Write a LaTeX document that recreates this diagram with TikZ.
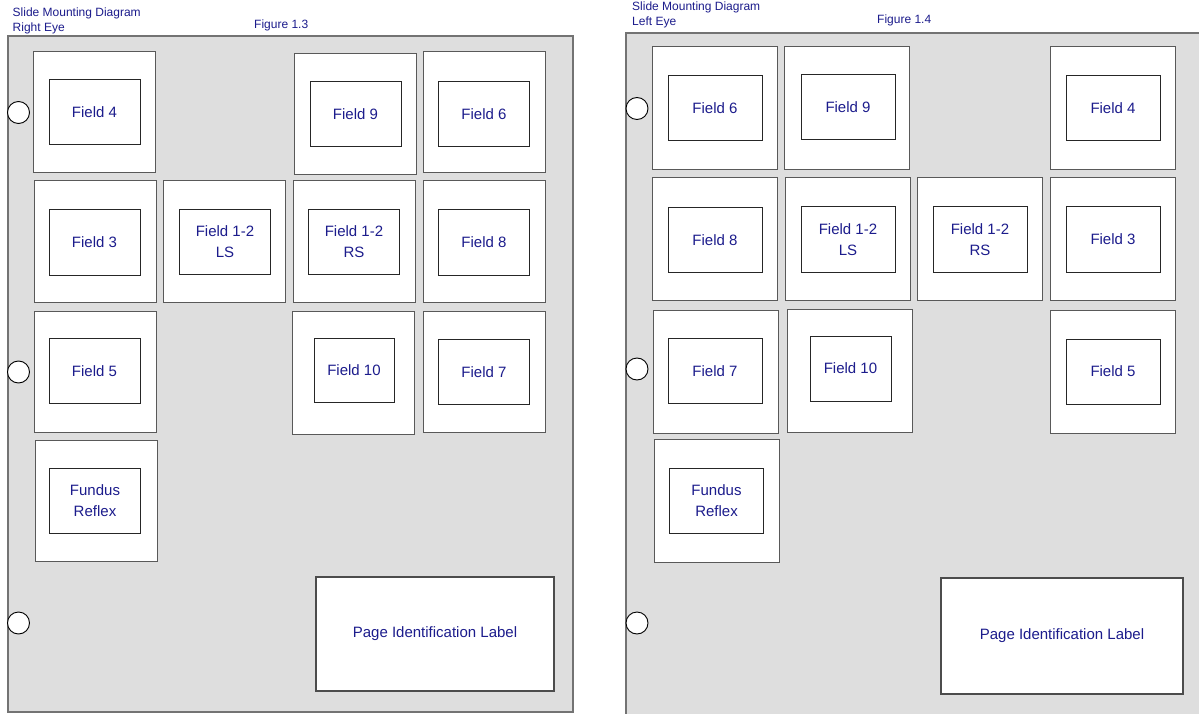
\documentclass[tikz,border=0pt]{standalone}
\usepackage{fontspec}
\setmainfont{Liberation Sans}
\usetikzlibrary{positioning}
\definecolor{ink}{RGB}{28,28,140}
\newcommand{\fieldfont}{\fontsize{15}{21}\selectfont}
\newcommand{\titlefont}{\fontsize{12}{15}\selectfont}

\begin{document}
\begin{tikzpicture}[
        x=1pt, y=-1pt,
        page/.style   = {draw=black!55, line width=1.5pt, fill=black!13},
        hole/.style   = {circle, draw=black, fill=white, minimum size=22pt, inner sep=0pt, line width=0.9pt},
        mount/.style  = {draw=black!65, line width=1pt, fill=white, minimum width=122pt, minimum height=121pt, inner sep=0pt},
        window/.style = {draw=black!85, line width=1pt, fill=white, minimum width=91pt, minimum height=65pt, inner sep=0pt, align=center, text=ink, font=\fieldfont},
        idlabel/.style = {draw=black!70, line width=1.2pt, fill=white, inner sep=0pt, text=ink, font=\fieldfont},
        title/.style  = {anchor=base west, inner sep=0pt, text=ink, font=\titlefont},
    ]
        \clip (0,0) rectangle (1199,714);
        \fill[white] (0,0) rectangle (1199,714);

        % Figure 1.3 -- right eye
        \node[title] (ttlR)  at (12.5,16.5) {Slide Mounting Diagram};
        \node[title] (eyeR)  at (12.5,31.5) {Right Eye};
        \node[title] (figR)  at (254,29) {Figure 1.3};

        \draw[page] (8,36) rectangle (573,712);
        \node[hole] (hR1) at (18.5,112.5) {};
        \node[hole] (hR2) at (18.5,372) {};
        \node[hole] (hR3) at (18.5,623) {};

        \node[mount]  (mR4)  at (94,112.5) {};
        \node[window] (wR4)  at (94.5,112.5) {Field 4};
        \node[mount]  (mR9)  at (355,114.5) {};
        \node[window] (wR9)  at (355.5,114) {Field 9};
        \node[mount]  (mR6)  at (484,112.5) {};
        \node[window] (wR6)  at (484,114.5) {Field 6};

        \node[mount]  (mR3)  at (95,241.5) {};
        \node[window] (wR3)  at (94.5,242.5) {Field 3};
        \node[mount]  (mRLS) at (224.5,241.5) {};
        \node[window] (wRLS) at (225,242) {Field 1-2\\LS};
        \node[mount]  (mRRS) at (354,241.5) {};
        \node[window] (wRRS) at (354,242) {Field 1-2\\RS};
        \node[mount]  (mR8)  at (484,241.5) {};
        \node[window] (wR8)  at (484,242.5) {Field 8};

        \node[mount]  (mR5)  at (95,371.5) {};
        \node[window] (wR5)  at (94.5,371) {Field 5};
        \node[mount, minimum height=123pt] (mR10) at (353,372.5) {};
        \node[window, minimum width=80pt, minimum height=64pt] (wR10) at (354,370) {Field 10};
        \node[mount]  (mR7)  at (484,372) {};
        \node[window] (wR7)  at (484,372) {Field 7};

        \node[mount]  (mRFR) at (96,501) {};
        \node[window] (wRFR) at (95,501) {Fundus\\Reflex};

        \node[idlabel, minimum width=238pt, minimum height=114pt] (idR) at (435,634) {Page Identification Label};

        % Figure 1.4 -- left eye
        \node[title] (ttlL)  at (632,10.7) {Slide Mounting Diagram};
        \node[title] (eyeL)  at (632,25.7) {Left Eye};
        \node[title] (figL)  at (877,24) {Figure 1.4};

        \draw[page] (626,33) rectangle (1215,730);
        \node[hole] (hL1) at (637,108.5) {};
        \node[hole] (hL2) at (637,369) {};
        \node[hole] (hL3) at (637,623) {};

        \begin{scope}[mount/.append style={minimum width=125pt, minimum height=123pt},
                      window/.append style={minimum width=94pt}]
        \node[mount]  (mL6)  at (714.5,108.5) {};
        \node[window] (wL6)  at (715,108.5) {Field 6};
        \node[mount]  (mL9)  at (846.5,108.5) {};
        \node[window] (wL9)  at (848,107.5) {Field 9};
        \node[mount]  (mL4)  at (1112.5,108.5) {};
        \node[window] (wL4)  at (1113,108.5) {Field 4};

        \node[mount]  (mL8)  at (715,239) {};
        \node[window] (wL8)  at (715,240) {Field 8};
        \node[mount]  (mLLS) at (847.5,239) {};
        \node[window] (wLLS) at (848,239.5) {Field 1-2\\LS};
        \node[mount]  (mLRS) at (979.5,239) {};
        \node[window] (wLRS) at (980,239.5) {Field 1-2\\RS};
        \node[mount]  (mL3)  at (1112.5,239) {};
        \node[window] (wL3)  at (1113,239.5) {Field 3};

        \node[mount]  (mL7)  at (715.5,371.5) {};
        \node[window] (wL7)  at (715,371) {Field 7};
        \node[mount]  (mL10) at (849.5,371) {};
        \node[window, minimum width=81pt] (wL10) at (850.5,368.5) {Field 10};
        \node[mount]  (mL5)  at (1112.5,371.5) {};
        \node[window] (wL5)  at (1113,371.5) {Field 5};

        \node[mount]  (mLFR) at (716.5,501) {};
        \node[window] (wLFR) at (716.5,500.5) {Fundus\\Reflex};
        \end{scope}

        \node[idlabel, minimum width=242pt, minimum height=116pt] (idL) at (1062,636) {Page Identification Label};
    \end{tikzpicture}
\end{document}
